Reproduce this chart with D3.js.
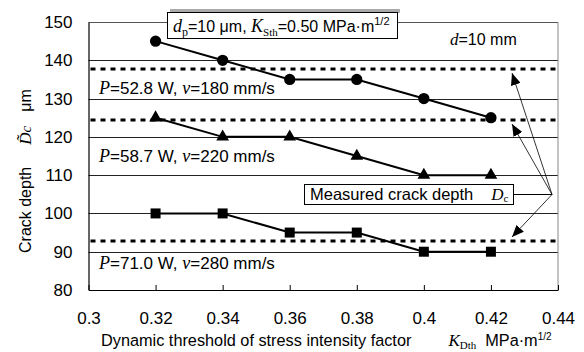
<!DOCTYPE html>
<html>
<head>
<meta charset="utf-8">
<script src="https://cdn.jsdelivr.net/npm/d3@7"></script>
<style>
  html, body { margin: 0; padding: 0; background: #fff; }
  svg { display: block; }
  .serif { font-family: "Liberation Serif", "Times New Roman", serif; font-style: italic; }
  .roman { font-family: "Liberation Serif", "Times New Roman", serif; font-style: normal; }
</style>
</head>
<body>
<svg id="chart" width="584" height="352"></svg>
<script>
// Dynamic threshold of stress intensity factor (x) vs crack depth (y)
const kDth = [0.32, 0.34, 0.36, 0.38, 0.40, 0.42];
const depthP528 = [145, 140, 135, 135, 130, 125]; // P=52.8 W, v=180 mm/s
const depthP587 = [125, 120, 120, 115, 110, 110]; // P=58.7 W, v=220 mm/s
const depthP710 = [100, 100, 95, 95, 90, 90];     // P=71.0 W, v=280 mm/s
const measuredDc = [137.7, 124.4, 92.8];          // measured crack depth (dotted)
const xTicks = [0.30, 0.32, 0.34, 0.36, 0.38, 0.40, 0.42, 0.44];
const xTickLabels = ["0.3", "0.32", "0.34", "0.36", "0.38", "0.4", "0.42", "0.44"];
const yTicks = [80, 90, 100, 110, 120, 130, 140, 150];

const SANS = "Liberation Sans, Arial, sans-serif";
const svg = d3.select("#chart");
const plotL = 88.5, plotR = 558, plotT = 22, plotB = 290;
const x = d3.scaleLinear().domain([0.30, 0.44]).range([plotL, plotR]);
const y = d3.scaleLinear().domain([80, 150]).range([plotB, plotT]);

// horizontal gridlines
svg.append("g").selectAll("line").data(yTicks.filter(v => v > 80 && v < 150)).join("line")
  .attr("x1", plotL).attr("x2", plotR)
  .attr("y1", d => Math.round(y(d)) + 0.5).attr("y2", d => Math.round(y(d)) + 0.5)
  .attr("stroke", "#222").attr("stroke-width", 1);

// frame: top and right in gray, left and bottom axes in black
svg.append("line").attr("x1", plotL).attr("x2", plotR).attr("y1", plotT + 0.5).attr("y2", plotT + 0.5)
  .attr("stroke", "#555").attr("stroke-width", 1);
svg.append("line").attr("x1", plotR).attr("x2", plotR).attr("y1", plotT).attr("y2", plotB)
  .attr("stroke", "#888").attr("stroke-width", 1);

// x axis with inward ticks
const xAxis = d3.axisBottom(x).tickValues(xTicks).tickSize(-5).tickSizeOuter(0)
  .tickFormat((d, i) => xTickLabels[i]);
const gx = svg.append("g").attr("transform", `translate(0,${plotB})`).call(xAxis);
gx.select(".domain").attr("stroke", "#000").attr("stroke-width", 1.2);
gx.selectAll(".tick line").attr("stroke", "#000");
gx.selectAll(".tick text").attr("font-size", 17).attr("fill", "#000")
  .attr("y", 22).attr("dy", "0.71em").attr("font-family", SANS);

// y axis
const yAxis = d3.axisLeft(y).tickValues(yTicks).tickSize(0).tickPadding(16);
const gy = svg.append("g").attr("transform", `translate(${plotL},0)`).call(yAxis);
gy.select(".domain").attr("stroke", "#000").attr("stroke-width", 1.2);
gy.selectAll(".tick text").attr("font-size", 17).attr("fill", "#000").attr("font-family", SANS);

// measured crack depth: dotted lines
svg.append("g").selectAll("line").data(measuredDc).join("line")
  .attr("x1", plotL + 2).attr("x2", plotR - 2)
  .attr("y1", d => y(d)).attr("y2", d => y(d))
  .attr("stroke", "#000").attr("stroke-width", 3).attr("stroke-dasharray", "5,5");

// series lines and markers
const line = d3.line().x((d, i) => x(kDth[i])).y(d => y(d));
const seriesList = [
  { values: depthP528, shape: d3.symbolCircle, size: 100 },
  { values: depthP587, shape: d3.symbolTriangle, size: 70 },
  { values: depthP710, shape: d3.symbolSquare, size: 100 }
];
seriesList.forEach(s => {
  svg.append("path").datum(s.values).attr("d", line)
    .attr("fill", "none").attr("stroke", "#000").attr("stroke-width", 2);
  svg.append("g").selectAll("path").data(s.values).join("path")
    .attr("transform", (d, i) => `translate(${x(kDth[i])},${y(d)})`)
    .attr("d", d3.symbol().type(s.shape).size(s.size))
    .attr("fill", "#000");
});

// condition labels
function condLabel(px, py, pVal, vVal) {
  const t = svg.append("text").attr("x", px).attr("y", py).attr("font-size", 17)
    .attr("font-family", SANS).attr("fill", "#000");
  t.append("tspan").attr("class", "serif").attr("font-size", 18).text("P");
  t.append("tspan").text(`=${pVal} W, `);
  t.append("tspan").attr("class", "serif").attr("font-size", 18).text("v");
  t.append("tspan").text(`=${vVal} mm/s`);
}
condLabel(99, 94, "52.8", "180");
condLabel(99, 162, "58.7", "220");
condLabel(99, 269, "71.0", "280");

// d = 10 mm
{
  const t = svg.append("text").attr("x", 450).attr("y", 45).attr("font-size", 16).attr("font-family", SANS);
  t.append("tspan").attr("class", "serif").attr("font-size", 17).text("d");
  t.append("tspan").text("=10 mm");
}

// parameter box at the top
svg.append("rect").attr("x", 170).attr("y", 9).attr("width", 230).attr("height", 4).attr("fill", "#aaa");
svg.append("rect").attr("x", 167.5).attr("y", 12.5).attr("width", 230).attr("height", 26)
  .attr("fill", "#fff").attr("stroke", "#000").attr("stroke-width", 1);
{
  const t = svg.append("text").attr("x", 173).attr("y", 32).attr("font-size", 16).attr("font-family", SANS);
  t.append("tspan").attr("class", "serif").attr("font-size", 18).text("d");
  t.append("tspan").attr("class", "roman").attr("font-size", 12).attr("dy", 4).text("p");
  t.append("tspan").attr("dy", -4).text("=10 μm, ");
  t.append("tspan").attr("class", "serif").attr("font-size", 18).text("K");
  t.append("tspan").attr("class", "roman").attr("font-size", 11).attr("dy", 4).text("Sth");
  t.append("tspan").attr("dy", -4).text("=0.50 MPa·m");
  t.append("tspan").attr("font-size", 11).attr("dy", -7).text("1/2");
}

// measured crack depth label box with leader arrows
const defs = svg.append("defs");
defs.append("marker").attr("id", "arrow").attr("viewBox", "0 0 12 10")
  .attr("refX", 12).attr("refY", 5).attr("markerWidth", 12).attr("markerHeight", 10)
  .attr("markerUnits", "userSpaceOnUse").attr("orient", "auto")
  .append("path").attr("d", "M0,0 L12,5 L0,10 Z").attr("fill", "#000");

svg.append("rect").attr("x", 304.5).attr("y", 184.5).attr("width", 209).attr("height", 20)
  .attr("fill", "#fff").attr("stroke", "#000").attr("stroke-width", 1);
{
  const t = svg.append("text").attr("x", 310).attr("y", 200).attr("font-size", 16.5).attr("font-family", SANS);
  t.append("tspan").text("Measured crack depth");
  t.append("tspan").attr("class", "serif").attr("font-size", 17).attr("dx", 18).text("D");
  t.append("tspan").attr("class", "roman").attr("font-size", 11).attr("dy", 2).text("c");
}
const hub = { x: 552, y: 194.5 };
svg.append("line").attr("x1", 513.5).attr("x2", hub.x).attr("y1", hub.y).attr("y2", hub.y)
  .attr("stroke", "#000").attr("stroke-width", 1);
const arrowX = 512;
measuredDc.forEach((v, i) => {
  const ty = y(v) + (i === 2 ? -4 : 4);
  svg.append("line").attr("x1", hub.x).attr("y1", hub.y).attr("x2", arrowX).attr("y2", ty)
    .attr("stroke", "#000").attr("stroke-width", 0.8).attr("marker-end", "url(#arrow)");
});

// axis titles
{
  const t = svg.append("text").attr("x", 101).attr("y", 346).attr("font-size", 16.3).attr("font-family", SANS);
  t.append("tspan").text("Dynamic threshold of stress intensity factor");
  t.append("tspan").attr("class", "serif").attr("font-size", 17).attr("dx", 37).text("K");
  t.append("tspan").attr("class", "roman").attr("font-size", 11).attr("dy", 3).text("Dth");
  t.append("tspan").attr("dy", -3).attr("dx", 9).text("MPa·m");
  t.append("tspan").attr("font-size", 10).attr("dy", -6).text("1/2");
}
{
  const t = svg.append("text").attr("transform", "translate(31,253) rotate(-90)")
    .attr("font-size", 16).attr("font-family", SANS);
  t.append("tspan").text("Crack depth");
  t.append("tspan").attr("class", "serif").attr("font-size", 17).attr("dx", 22).text("D\u0303");
  t.append("tspan").attr("class", "serif").attr("font-size", 15).text("c");
  t.append("tspan").attr("dx", 14).text("μm");
}
</script>
</body>
</html>
